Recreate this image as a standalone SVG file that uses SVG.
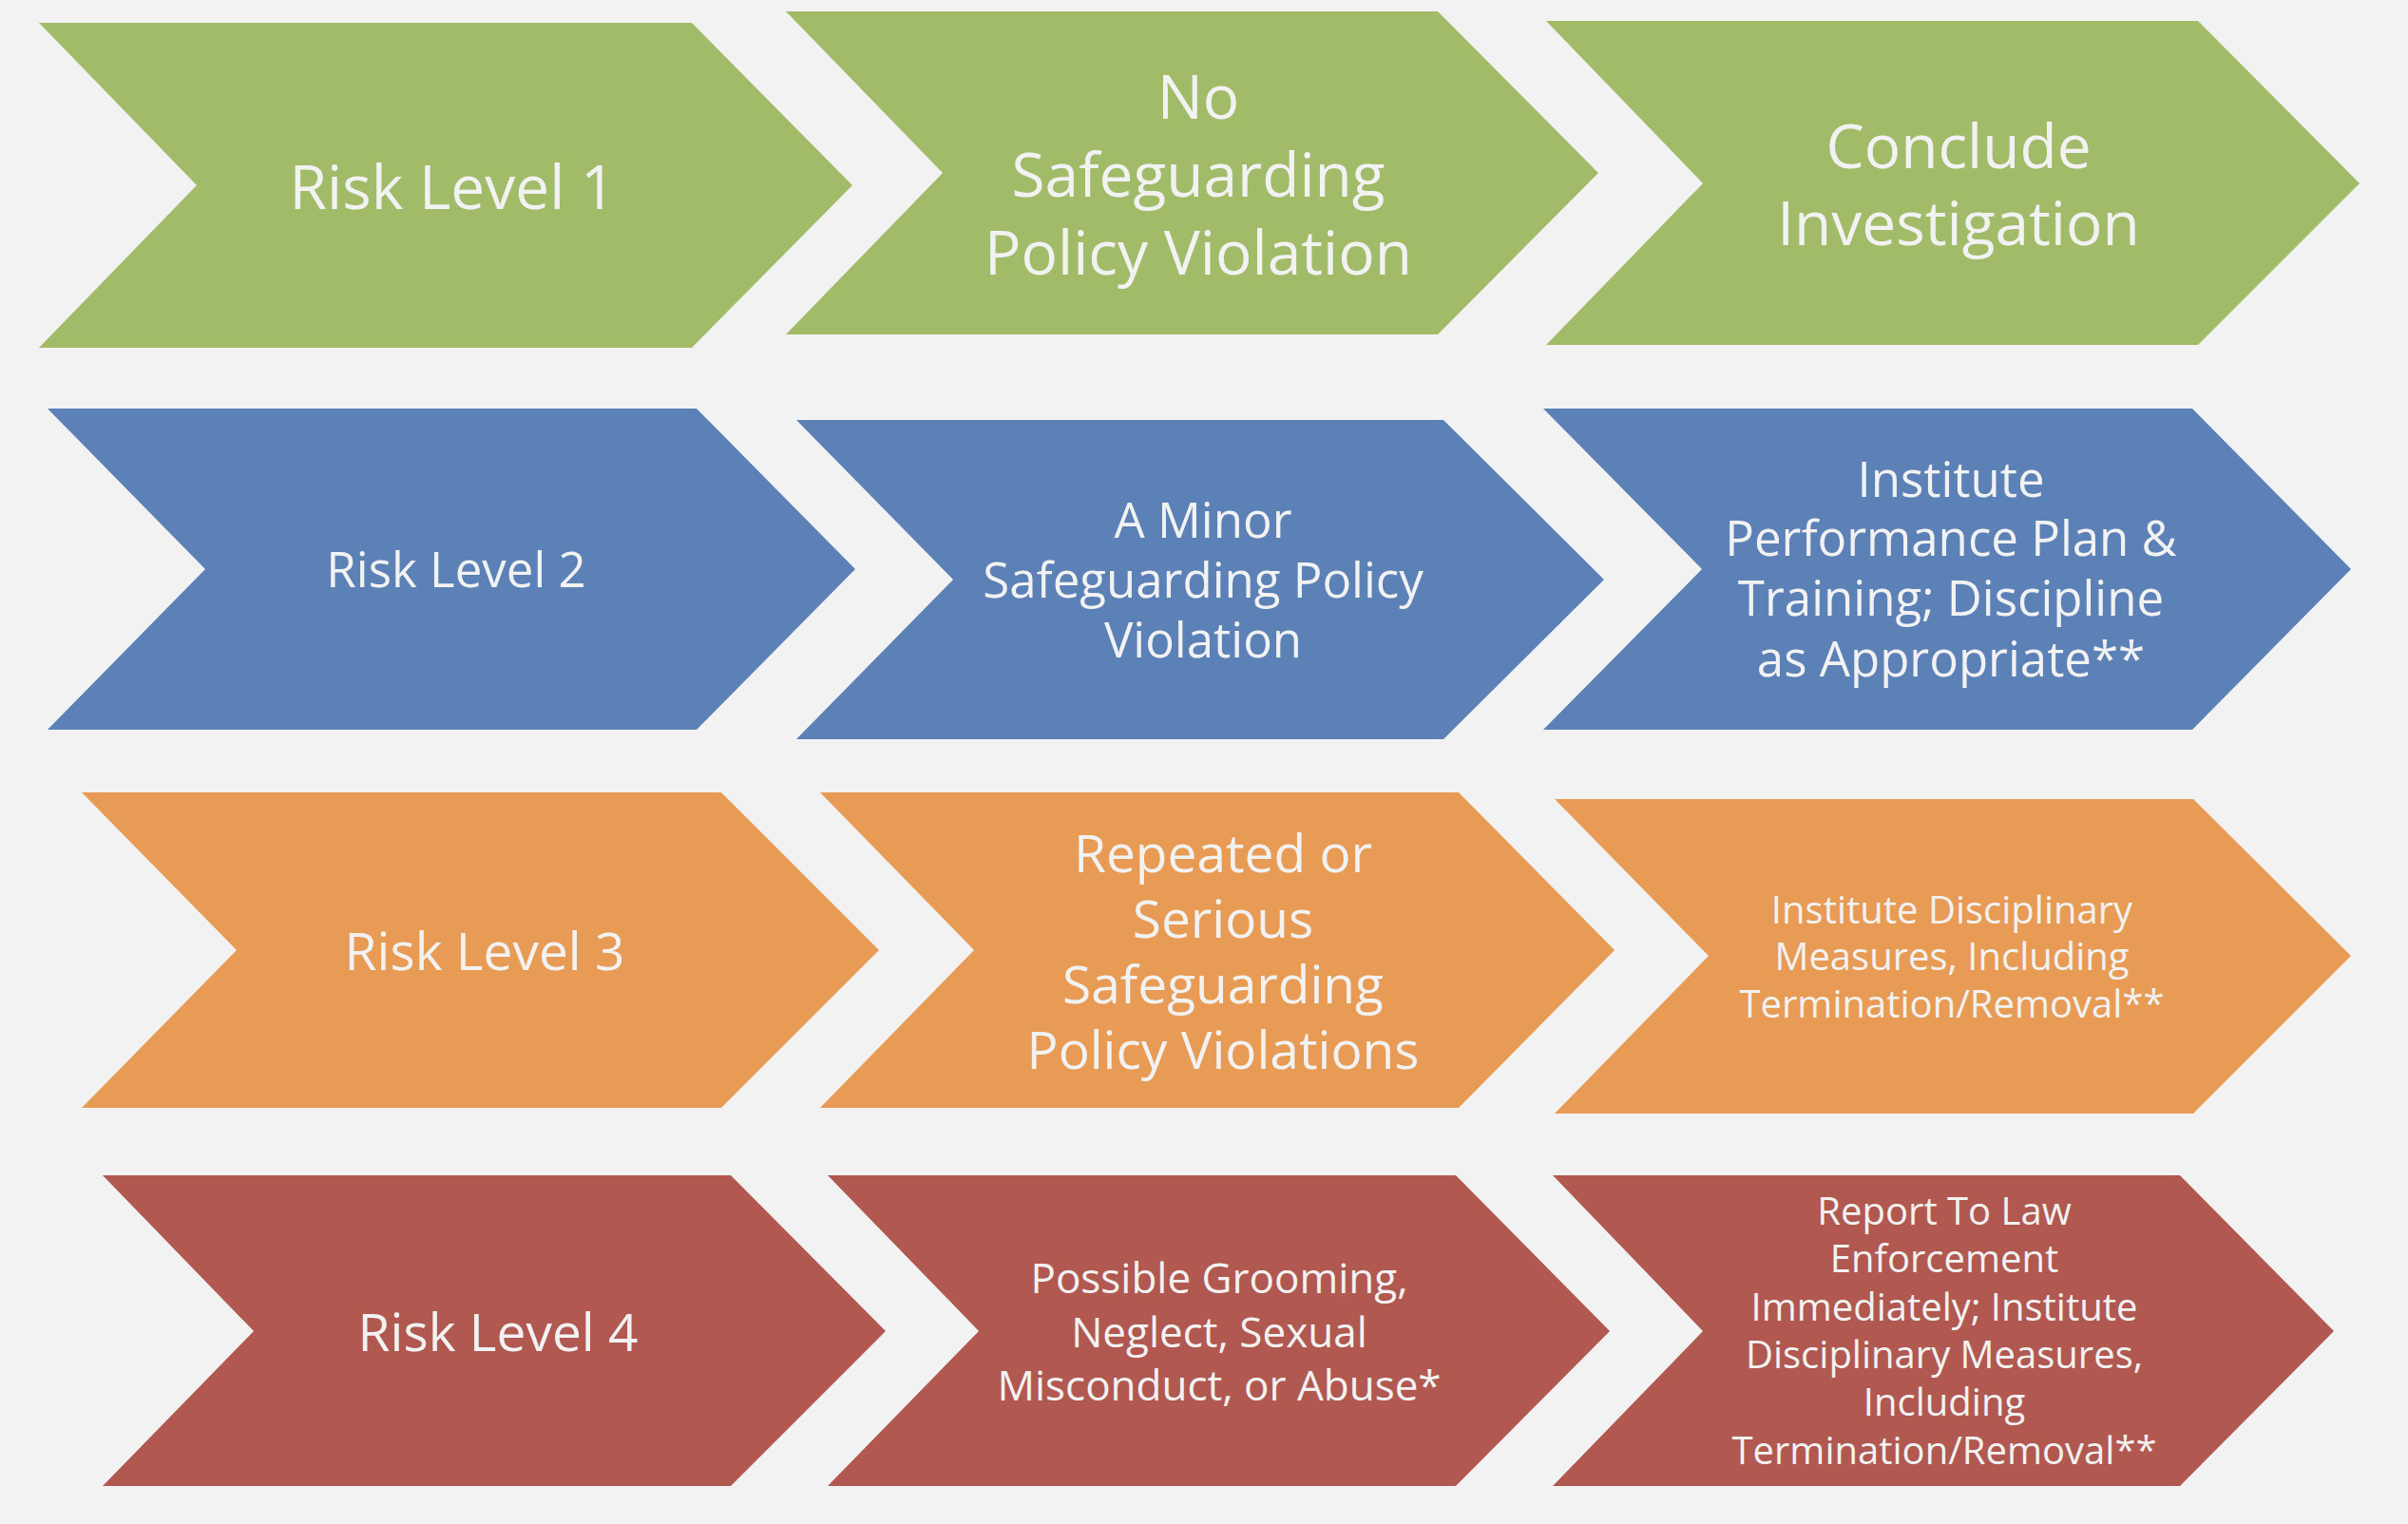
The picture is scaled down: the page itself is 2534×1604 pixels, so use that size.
<svg xmlns="http://www.w3.org/2000/svg" width="2534" height="1604" viewBox="0 0 2534 1604">
<style>
.g{fill:#A2BB69}.b{fill:#5B81B7}.o{fill:#E89B54}.r{fill:#B15850}
text{font-family:"Open Sans","Liberation Sans",sans-serif;fill:#F2F2F2;text-anchor:middle}
.t64{font-size:64px}.t51{font-size:51px}.t55{font-size:55px}.t44{font-size:44px}.t40{font-size:40px}
</style>
<rect width="2534" height="1604" fill="#F2F2F2"/>
<g id="r1c1"><polygon class="g" points="41,24 728,24 897,195 728,366 41,366 207,195"/><text class="t64" x="476" y="220">Risk Level 1</text></g>
<g id="r1c2"><polygon class="g" points="827,12 1513,12 1682,182 1513,352 827,352 992,182"/><text class="t64" x="1261"><tspan x="1261" y="125">No</tspan><tspan x="1261" y="207">Safeguarding</tspan><tspan x="1261" y="289">Policy Violation</tspan></text></g>
<g id="r1c3"><polygon class="g" points="1627,22 2313,22 2483,193 2313,363 1627,363 1792,193"/><text class="t64"><tspan x="2061" y="177">Conclude</tspan><tspan x="2061" y="258">Investigation</tspan></text></g>
<g id="r2c1"><polygon class="b" points="50,430 733,430 900,599 733,768 50,768 216,599"/><text class="t51" x="480" y="618">Risk Level 2</text></g>
<g id="r2c2"><polygon class="b" points="838,442 1519,442 1688,610 1519,778 838,778 1003,610"/><text class="t51"><tspan x="1266" y="566">A Minor</tspan><tspan x="1266" y="629">Safeguarding Policy</tspan><tspan x="1266" y="692">Violation</tspan></text></g>
<g id="r2c3"><polygon class="b" points="1624,430 2307,430 2474,599 2307,768 1624,768 1791,599"/><text class="t51"><tspan x="2053" y="523">Institute</tspan><tspan x="2053" y="585">Performance Plan &amp;</tspan><tspan x="2053" y="648">Training; Discipline</tspan><tspan x="2053" y="712">as Appropriate**</tspan></text></g>
<g id="r3c1"><polygon class="o" points="86,834 759,834 925,1000 759,1166 86,1166 249,1000"/><text class="t55" x="510" y="1021">Risk Level 3</text></g>
<g id="r3c2"><polygon class="o" points="863,834 1535,834 1699,1000 1535,1166 863,1166 1025,1000"/><text class="t55"><tspan x="1287" y="918">Repeated or</tspan><tspan x="1287" y="987">Serious</tspan><tspan x="1287" y="1056">Safeguarding</tspan><tspan x="1287" y="1125">Policy Violations</tspan></text></g>
<g id="r3c3"><polygon class="o" points="1636,841 2308,841 2474,1006 2308,1172 1636,1172 1798,1006"/><text class="t40"><tspan x="2054" y="972">Institute Disciplinary</tspan><tspan x="2054" y="1021">Measures, Including</tspan><tspan x="2054" y="1071">Termination/Removal**</tspan></text></g>
<g id="r4c1"><polygon class="r" points="108,1237 769,1237 932,1401 769,1564 108,1564 267,1401"/><text class="t55" x="524" y="1422">Risk Level 4</text></g>
<g id="r4c2"><polygon class="r" points="871,1237 1532,1237 1694,1401 1532,1564 871,1564 1030,1401"/><text class="t44"><tspan x="1283" y="1361">Possible Grooming,</tspan><tspan x="1283" y="1418">Neglect, Sexual</tspan><tspan x="1283" y="1474">Misconduct, or Abuse*</tspan></text></g>
<g id="r4c3"><polygon class="r" points="1634,1237 2294,1237 2456,1401 2294,1564 1634,1564 1792,1401"/><text class="t40"><tspan x="2046" y="1289">Report To Law</tspan><tspan x="2046" y="1339">Enforcement</tspan><tspan x="2046" y="1390">Immediately; Institute</tspan><tspan x="2046" y="1440">Disciplinary Measures,</tspan><tspan x="2046" y="1490">Including</tspan><tspan x="2046" y="1541">Termination/Removal**</tspan></text></g>
<g id="connectors"/>
</svg>
